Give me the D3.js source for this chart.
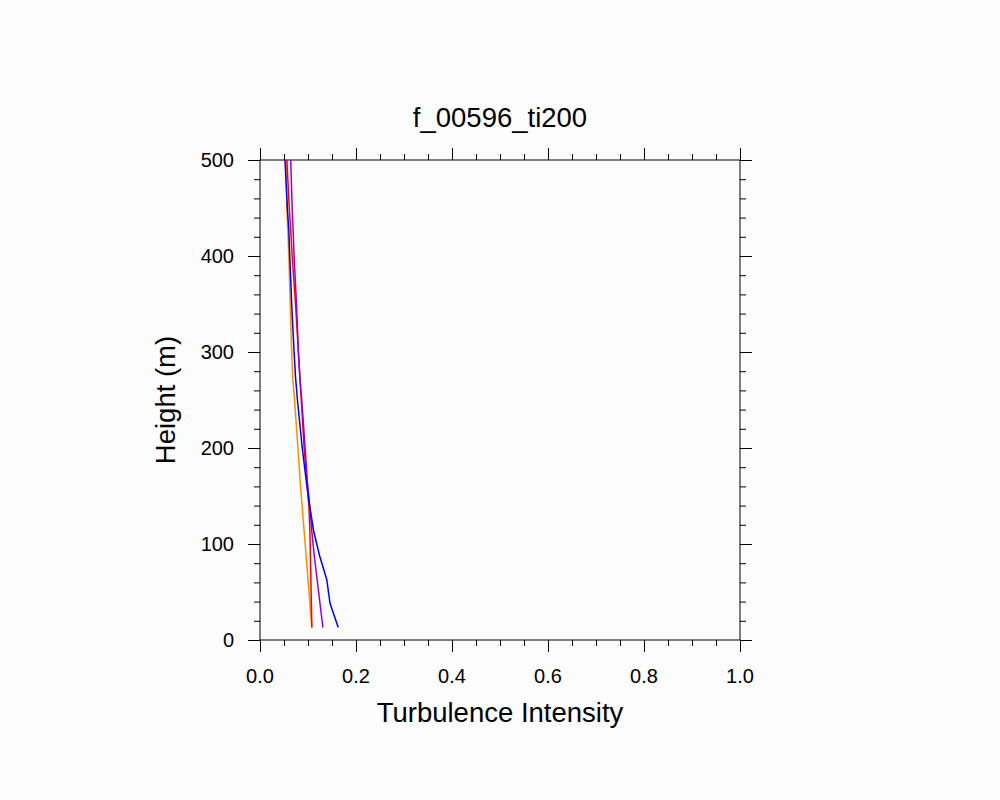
<!DOCTYPE html><html><head><meta charset="utf-8"><script src="https://cdn.jsdelivr.net/npm/d3@7"></script>
<style>body{margin:0;background:#fcfcfc}text{font-family:"Liberation Sans",Arial,sans-serif}</style></head><body><svg id="c" width="1000" height="800"></svg><script>
const heights=[13,38,63,88,113,138,163,200,250,274,300,350,400,427,450,500];
const orange=[0.108,0.104,0.100,0.096,0.092,0.088,0.084,0.079,0.072,0.068,0.066,0.063,0.060,0.058,0.056,0.054];
const red=[0.108,0.107,0.106,0.105,0.104,0.102,0.098,0.092,0.086,0.083,0.080,0.074,0.067,0.064,0.061,0.056];
const purple=[0.131,0.125,0.119,0.113,0.108,0.104,0.099,0.094,0.087,0.083,0.080,0.076,0.071,0.069,0.067,0.064];
const blue=[0.163,0.146,0.139,0.124,0.112,0.104,0.097,0.088,0.078,0.074,0.071,0.066,0.062,0.060,0.057,0.052];
const series=[{v:orange,c:"#ff8c00"},{v:red,c:"#ff0000"},{v:purple,c:"#9400d3"},{v:blue,c:"#0000ff"}];
const xTicks=[0,0.2,0.4,0.6,0.8,1.0], yTicks=[0,100,200,300,400,500];
const svg=d3.select("#c");
const x=d3.scaleLinear().domain([0,1]).range([260,740]);
const y=d3.scaleLinear().domain([0,500]).range([640,160]);
svg.append("rect").attr("x",260).attr("y",160).attr("width",480).attr("height",480).attr("fill","none").attr("stroke","#000");
function ticks(axisFn,vals,len,transform){const g=svg.append("g").attr("transform",transform).call(axisFn.tickValues(vals).tickSize(len).tickFormat(""));g.select(".domain").remove();g.selectAll("line").attr("stroke","#000");return g;}
const xm=d3.range(0,1.0001,0.05), ym=d3.range(0,500.01,20);
ticks(d3.axisBottom(x),xm,6,"translate(0,640)");ticks(d3.axisBottom(x),xTicks,12,"translate(0,640)");
ticks(d3.axisTop(x),xm,6,"translate(0,160)");ticks(d3.axisTop(x),xTicks,12,"translate(0,160)");
ticks(d3.axisLeft(y),ym,6,"translate(260,0)");ticks(d3.axisLeft(y),yTicks,12,"translate(260,0)");
ticks(d3.axisRight(y),ym,6,"translate(740,0)");ticks(d3.axisRight(y),yTicks,12,"translate(740,0)");
xTicks.forEach(t=>svg.append("text").attr("x",x(t)).attr("y",683).attr("text-anchor","middle").attr("font-size",20).text(t.toFixed(1)));
yTicks.forEach(t=>svg.append("text").attr("x",234).attr("y",y(t)+7).attr("text-anchor","end").attr("font-size",20).text(t));
svg.append("text").attr("x",500).attr("y",722).attr("text-anchor","middle").attr("font-size",27.5).text("Turbulence Intensity");
svg.append("text").attr("transform","translate(175,400) rotate(-90)").attr("text-anchor","middle").attr("font-size",27.5).text("Height (m)");
svg.append("text").attr("x",500).attr("y",127).attr("text-anchor","middle").attr("font-size",27.5).text("f_00596_ti200");
const line=d3.line().x(d=>x(d[0])).y(d=>y(d[1]));
series.forEach(s=>svg.append("path").attr("d",line(s.v.map((v,i)=>[v,heights[i]]))).attr("fill","none").attr("stroke",s.c).attr("stroke-width",1.5));
</script></body></html>
